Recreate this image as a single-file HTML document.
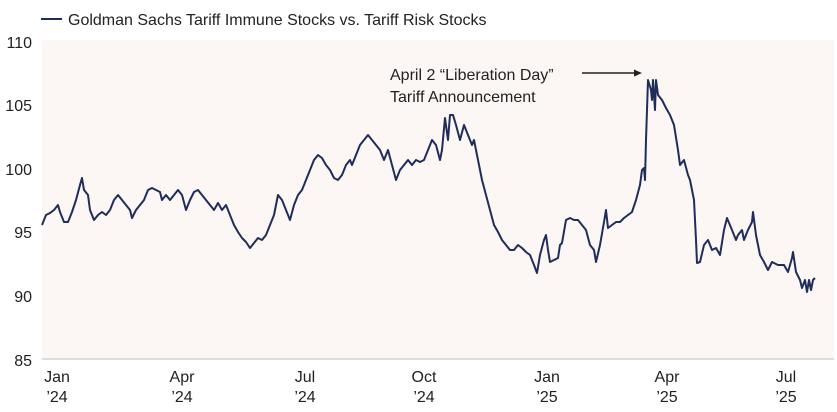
<!DOCTYPE html>
<html><head><meta charset="utf-8"><style>
body{margin:0;background:#fff;}
svg{display:block;font-family:"Liberation Sans",sans-serif;}
</style></head><body>
<svg width="837" height="412" viewBox="0 0 837 412" xmlns="http://www.w3.org/2000/svg">
<rect x="42" y="40" width="792" height="319" fill="#fcf6f5"/>
<line x1="42" y1="359" x2="834" y2="359" stroke="#bdbdbd" stroke-width="1"/>
<line x1="41" y1="19" x2="62" y2="19" stroke="#1f2d5a" stroke-width="2"/>
<text x="68" y="25" font-size="16" fill="#222">Goldman Sachs Tariff Immune Stocks vs. Tariff Risk Stocks</text>
<g font-size="16" fill="#222" text-anchor="end">
<text x="32" y="48">110</text><text x="32" y="111">105</text><text x="32" y="175">100</text>
<text x="32" y="238">95</text><text x="32" y="302">90</text><text x="32" y="366">85</text>
</g>
<g font-size="16" fill="#222" text-anchor="middle">
<text x="57" y="382">Jan</text><text x="57" y="402">’24</text>
<text x="182" y="382">Apr</text><text x="182" y="402">’24</text>
<text x="305" y="382">Jul</text><text x="305" y="402">’24</text>
<text x="424" y="382">Oct</text><text x="424" y="402">’24</text>
<text x="547" y="382">Jan</text><text x="547" y="402">’25</text>
<text x="667" y="382">Apr</text><text x="667" y="402">’25</text>
<text x="786" y="382">Jul</text><text x="786" y="402">’25</text>
</g>
<text x="390" y="80" font-size="16" fill="#222">April 2 “Liberation Day”</text>
<text x="390" y="102" font-size="16" fill="#222">Tariff Announcement</text>
<line x1="582" y1="73" x2="636" y2="73" stroke="#222" stroke-width="1.5"/>
<polygon points="642,73 634,69.5 634,76.5" fill="#222"/>
<polyline fill="none" stroke="#1f2d5a" stroke-width="2" stroke-linejoin="round" points="42,225 46,215 50,213 54,210 58,205 60,212 64,222 68,222 72,212 76,200 80,185 82,178 84,190 88,195 90,210 94,220 98,215 102,212 106,215 110,210 114,200 118,195 122,200 126,205 130,210 132,218 136,210 140,205 144,200 148,190 152,188 156,190 160,192 162,200 166,195 170,200 174,195 178,190 182,195 186,210 190,200 194,192 198,190 202,195 206,200 210,205 214,210 218,203 222,210 226,205 230,215 234,225 238,232 242,238 246,242 250,248 254,243 258,238 262,240 266,235 270,225 274,215 276,205 278,195 282,200 286,210 290,220 294,205 298,195 302,190 306,180 310,170 314,160 318,155 322,158 326,165 330,170 334,178 338,180 342,175 346,165 350,160 352,165 356,155 360,145 364,140 368,135 372,140 376,145 380,150 384,160 388,150 392,165 396,180 400,170 404,165 408,160 412,165 416,160 420,162 424,160 428,150 432,140 436,145 440,160 442,150 445,118 448,140 450,115 453,115 456,125 460,140 464,125 468,135 472,145 474,140 478,160 482,180 486,195 490,210 494,225 498,232 502,240 506,245 510,250 514,250 518,245 522,248 526,252 530,255 534,265 537,273 540,255 544,240 546,235 548,250 550,262 554,260 558,258 560,245 562,243 566,220 570,218 574,220 578,220 582,225 586,230 590,245 594,250 596,262 600,245 604,222 606,210 608,228 612,225 616,222 620,222 624,218 628,215 632,212 636,200 640,185 642,170 644,168 645,180 646,140 648,80 651,90 652,100 653,80 655,110 656,80 658,95 662,100 666,108 670,115 674,125 678,150 680,165 684,160 688,175 690,180 694,200 696,240 697,263 700,262 704,245 708,240 712,250 716,248 720,255 724,230 727,218 732,230 736,240 738,235 742,230 744,240 748,230 752,222 753,212 756,235 760,255 764,262 768,270 772,262 778,265 784,265 788,272 792,258 793,252 796,272 800,280 802,288 805,280 807,292 809,280 811,290 813,280 815,278"/>
</svg>
</body></html>
